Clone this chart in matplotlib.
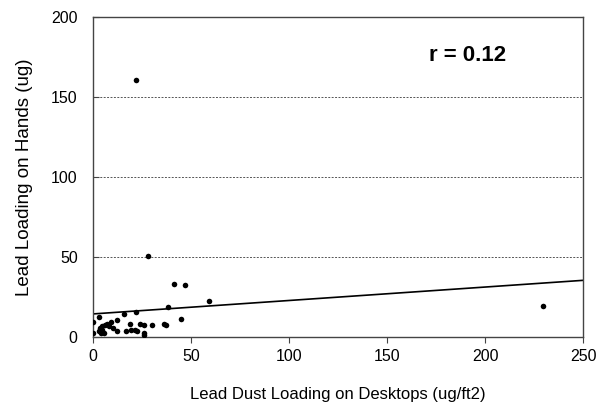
import matplotlib
matplotlib.use('Agg')
import matplotlib.pyplot as plt
import numpy as np

plt.rcParams['font.family'] = ['Liberation Sans', 'DejaVu Sans']

# lead dust on desktops (ug/ft2) vs lead on hands (ug)
desk_dust = [22.0, 28.0, 41.1, 47.1, 59.0, 38.1, 44.9, 229.7, 22.0, 16.0,
             3.2, 0.0, 0.0, 12.3, 30.2, 36.1, 37.1, 24.2, 18.7, 26.2,
             16.7, 19.3, 21.2, 12.3, 10.3, 9.3, 7.3, 6.0, 4.4, 3.4,
             2.8, 4.0, 5.4, 26.2, 26.2, 22.2, 8.3, 4.8]
hand_lead = [160.4, 50.4, 33.3, 32.3, 22.5, 18.7, 11.2, 19.4, 15.4, 14.6,
             12.7, 9.4, 2.5, 10.6, 7.7, 8.3, 7.7, 8.3, 8.3, 7.7,
             4.0, 4.6, 4.6, 3.5, 5.6, 9.2, 8.3, 7.7, 7.0, 5.6,
             3.5, 2.5, 2.5, 2.5, 1.5, 3.5, 6.7, 4.6]

# fitted trend line as printed in the chart
trend_intercept = 14.4
trend_slope = 0.084
r_value = 0.12

fig = plt.figure(figsize=(6.1, 4.05), dpi=100)
ax = fig.add_axes([0.1525, 0.168, 0.8035, 0.79])

ax.scatter(desk_dust, hand_lead, s=16, color='black', zorder=3, linewidths=0)

xs = np.array([0, 250])
ax.plot(xs, trend_intercept + trend_slope * xs, color='black', lw=1.2, zorder=2)

ax.set_xlim(0, 250)
ax.set_ylim(0, 200)
ax.set_xticks(range(0, 251, 50))
ax.set_yticks(range(0, 201, 50))
for yv in [50, 100, 150]:
    ax.axhline(yv, color='#555555', lw=0.7, ls=(0, (2, 1.5)), zorder=1)

for sp in ax.spines.values():
    sp.set_color('#444444')
    sp.set_linewidth(1.0)
ax.tick_params(axis='x', labelsize=11.5, length=4, color='#444444', direction='out', pad=5)
ax.tick_params(axis='y', labelsize=11.5, length=4, color='#444444', direction='in', pad=11)

ax.set_xlabel('Lead Dust Loading on Desktops (ug/ft2)', fontsize=12, labelpad=16)
ax.set_ylabel('Lead Loading on Hands (ug)', fontsize=13.5, labelpad=13)

ax.text(0.765, 0.88, 'r = %.2f' % r_value, transform=ax.transAxes,
        fontsize=16, fontweight='bold', ha='center', va='center')

fig.savefig('out.png', dpi=100)
